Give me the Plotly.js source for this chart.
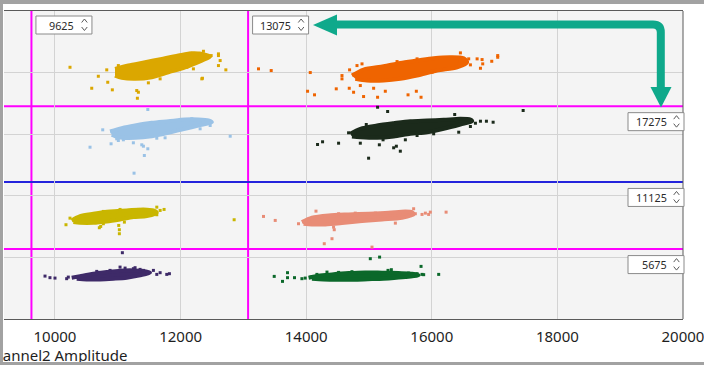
<!DOCTYPE html>
<html>
<head>
<meta charset="utf-8">
<script src="https://cdn.plot.ly/plotly-3.0.1.min.js"></script>
<style>
  html, body { margin: 0; padding: 0; background: #ffffff; overflow: hidden; }
  #wrap { position: relative; width: 704px; height: 365px; overflow: hidden; }
  #chart { position: absolute; left: 0; top: 0; width: 704px; height: 365px; }
  #frame { position: absolute; left: 0; top: 0; width: 704px; height: 365px; box-sizing: border-box;
           border-left: 3px solid #a2a2a2; border-top: 4px solid #a2a2a2; border-bottom: 3px solid #a2a2a2;
           pointer-events: none; }
</style>
</head>
<body>
<div id="wrap"><div id="chart"></div><div id="frame"></div></div>
<script>
// ---------------- data ----------------
const xAxisTitle = 'Channel2 Amplitude';
const xTickVals = [10000, 12000, 14000, 16000, 18000, 20000];
const xTickText = ['10000', '12000', '14000', '16000', '18000', '20000'];
const yGridVals = [0, 5000, 10000, 15000, 20000, 25000];

const vThresholds = [9625, 13075];          // Channel2 thresholds (vertical lines)
const hThresholds = [17275, 11125, 5675];   // Channel1 thresholds (horizontal lines)

// cluster cores (outline of the dense region) and individual droplets
const goldCoreX = [10956,11168,11435,11701,11965,12179,12338,12471,12338,12072,11806,11541,11275,11063,10956];
const goldCoreY = [20304,20571,20839,21115,21382,21569,21520,21301,20977,20433,20028,19622,19493,19574,19760];
const goldPtsX = [10239,10585,10690,10824,10840,10913,11009,11302,11328,11312,11487,11674,12099,12232,12311,12364,12418,12487,12603,12630,12603,12338,12204,12045,12152,12603,12721,12348];
const goldPtsY = [20433,18730,19703,20222,19217,18601,20571,18544,18406,17919,19168,19493,20433,21244,21569,21731,21382,21382,21382,20977,20571,19493,20304,21463,21569,21520,20222,19541];

const orangeCoreX = [14729,14914,15233,15499,15766,16030,16296,16508,16563,16403,16084,15766,15499,15233,14968,14782];
const orangeCoreY = [19760,20247,20514,20790,20977,21163,21244,21163,20839,20433,20166,19760,19493,19355,19355,19493];
const orangePtsX = [13241,13443,14065,14022,14133,14479,14570,14570,14691,14755,14809,14889,14686,14862,14914,15074,15137,15260,15622,15754,15829,16005,16456,16615,16722,16801,16775,16811,16955,17050,17050,16403,16588,16190,15447,15766];
const orangePtsY = [20304,20166,20004,18487,18195,18682,19760,19493,20222,18406,20571,20709,18730,18949,18057,18730,18000,18487,18195,18487,18000,20028,21601,20628,21115,21058,20352,20709,20920,21382,21244,20977,21115,20304,20896,21115];

const blueCoreX = [10877,11063,11275,11541,11806,12072,12284,12444,12498,12284,12072,11806,11541,11275,11009,10904];
const blueCoreY = [15219,15486,15705,15924,16054,16192,16192,16111,15973,15705,15438,15113,14837,14708,14756,14951];
const bluePtsX = [11478,10760,10558,10893,10983,11248,11382,11408,11478,11423,11259,12790,12471,12444,12311,12179,12364,11965,11753,11621,11089,11009];
const bluePtsY = [17003,15356,13945,14221,14626,14302,14140,14026,13816,13272,11837,14837,15705,16111,15438,16249,15973,15300,14708,14675,14545,14489];

const blackCoreX = [14702,14862,15128,15393,15659,15925,16190,16456,16615,16642,16456,16190,15925,15659,15393,15128,14862,14729];
const blackCoreY = [15032,15438,15705,15892,16054,16111,16167,16249,16192,16054,15786,15438,15162,15032,14813,14708,14756,14813];
const blackPtsX = [15137,15297,14181,14261,14516,14862,15165,15224,15393,15436,15499,14994,15579,16365,16429,16615,16695,16775,16870,16977,17455,14675,14957,16030,15766];
const blackPtsY = [17189,16841,14164,14383,14270,14270,14140,14545,13897,14026,13621,13053,14545,16597,15162,15624,15892,16054,16054,15973,16922,15113,15786,15032,14894];

const oliveCoreX = [10266,10399,10611,10877,11143,11408,11567,11621,11462,11248,11036,10824,10611,10399,10292];
const oliveCoreY = [8001,8349,8544,8731,8812,8893,8812,8625,8349,8268,8082,7920,7814,7814,7863];
const olivePtsX = [10175,10239,10706,10728,10770,11015,11025,11025,11105,11621,11674,11737,11621,12853,10770,11036,11328];
const olivePtsY = [7652,8187,7409,7514,7733,7595,7246,6922,7863,9079,8812,8893,8463,8057,8731,8893,8893];

const salmonCoreX = [13932,14092,14356,14675,14994,15313,15579,15686,15711,15526,15208,14889,14570,14304,14092,13958];
const salmonCoreY = [7863,8220,8406,8487,8544,8625,8731,8674,8487,8220,8082,7944,7782,7676,7676,7733];
const salmonPtsX = [13320,13507,13878,14156,14436,14447,14411,14288,15048,15420,15711,15738,15845,15950,15977,15898,16228,15101,14782,14516,14251,14038];
const salmonPtsY = [8325,8001,7733,8755,7457,7246,6517,6111,5835,7782,8950,8544,8487,8487,8674,8593,8674,8593,8593,8544,8268,8001];

const purpleCoreX = [10266,10399,10611,10824,11036,11248,11408,11514,11355,11143,10929,10717,10505,10346];
const purpleCoreY = [3354,3483,3678,3808,3921,3946,3889,3759,3540,3354,3273,3216,3216,3273];
const purplePtsX = [11073,9841,9920,10000,10186,10212,10665,10877,11036,11116,11248,11275,11355,11408,11462,11567,11674,11780,11822,11621];
const purplePtsY = [5381,3483,3354,3321,3273,3402,3865,3946,4213,4132,4084,4165,4027,3946,3759,3946,3759,3621,3678,3621];

const greenCoreX = [14038,14197,14411,14675,14941,15208,15472,15686,15791,15579,15313,15048,14782,14516,14277,14092];
const greenCoreY = [3354,3516,3621,3727,3783,3759,3727,3678,3565,3402,3297,3240,3191,3191,3216,3273];
const greenPtsX = [13491,13623,13703,13703,13814,13932,13985,14076,14171,14331,15021,15169,15303,15356,15829,15766,15845,15871,16110,15632,14729,14516];
const greenPtsY = [3459,3054,3759,3354,3354,3273,3321,3402,3621,3808,4895,5024,3946,4002,4270,3678,3621,3597,3621,3727,3840,3783];

// ---------------- styles ----------------
const clusters = [
  {cx: goldCoreX,   cy: goldCoreY,   px: goldPtsX,   py: goldPtsY,   color: '#dba700'},
  {cx: orangeCoreX, cy: orangeCoreY, px: orangePtsX, py: orangePtsY, color: '#ef6400'},
  {cx: blueCoreX,   cy: blueCoreY,   px: bluePtsX,   py: bluePtsY,   color: '#9ac2e6'},
  {cx: blackCoreX,  cy: blackCoreY,  px: blackPtsX,  py: blackPtsY,  color: '#1b2a1b'},
  {cx: oliveCoreX,  cy: oliveCoreY,  px: olivePtsX,  py: olivePtsY,  color: '#c9b600'},
  {cx: salmonCoreX, cy: salmonCoreY, px: salmonPtsX, py: salmonPtsY, color: '#e88c76'},
  {cx: purpleCoreX, cy: purpleCoreY, px: purplePtsX, py: purplePtsY, color: '#3e2a68'},
  {cx: greenCoreX,  cy: greenCoreY,  px: greenPtsX,  py: greenPtsY,  color: '#0b682a'}
];
const hColors = ['#ff00ff', '#2424dc', '#ff00ff'];
const vColor = '#ff00ff';
const teal = '#0fa98b';
const boxLine = '#8a8a8a';
const chevColor = '#5a5a5a';
const txtFont = {family: 'Noto Sans, Open Sans, sans-serif', size: 15, color: '#1e1e1e'};
const boxFont = {family: 'Noto Sans, Open Sans, sans-serif', size: 10.8, color: '#2a2a2a'};

// ---------------- traces ----------------
const traces = [];
clusters.forEach(c => {
  // dense core of the cluster
  traces.push({
    x: c.cx, y: c.cy, type: 'scatter', mode: 'lines', fill: 'toself',
    fillcolor: c.color, line: {color: c.color, width: 4, shape: 'spline', smoothing: 0.8},
    hoverinfo: 'skip'
  });
  // individual droplets around it
  traces.push({
    x: c.px, y: c.py, type: 'scatter', mode: 'markers',
    marker: {symbol: 'square', size: 3, color: c.color, line: {width: 0}},
    hoverinfo: 'skip'
  });
});

// ---------------- shapes & annotations ----------------
const shapes = [];
const annotations = [];

vThresholds.forEach(v => {
  shapes.push({type: 'line', layer: 'between', xref: 'x', yref: 'paper', x0: v, x1: v, y0: 0, y1: 1,
               line: {color: vColor, width: 2}});
});
hThresholds.forEach((v, i) => {
  shapes.push({type: 'line', layer: 'between', xref: 'paper', yref: 'y', x0: 0, x1: 1, y0: v, y1: v,
               line: {color: hColors[i], width: 2}});
});

// right border of the plot area
shapes.push({type: 'line', xref: 'paper', yref: 'paper', x0: 1, x1: 1, y0: 0, y1: 1,
             line: {color: '#5a5a5a', width: 1}});

// spinner boxes for vertical thresholds (top of plot)
vThresholds.forEach(v => {
  shapes.push({type: 'rect', xref: 'x', xsizemode: 'pixel', xanchor: v, x0: 4.5, x1: 60.5,
               yref: 'paper', ysizemode: 'pixel', yanchor: 1, y0: -5, y1: -23,
               fillcolor: '#ffffff', line: {color: boxLine, width: 1}});
  shapes.push({type: 'path', xref: 'x', xsizemode: 'pixel', xanchor: v,
               yref: 'paper', ysizemode: 'pixel', yanchor: 1,
               path: 'M 50.2,-11.5 L 53,-8 L 55.8,-11.5', fillcolor: 'rgba(0,0,0,0)',
               line: {color: chevColor, width: 1}});
  shapes.push({type: 'path', xref: 'x', xsizemode: 'pixel', xanchor: v,
               yref: 'paper', ysizemode: 'pixel', yanchor: 1,
               path: 'M 50.2,-16 L 53,-19.5 L 55.8,-16', fillcolor: 'rgba(0,0,0,0)',
               line: {color: chevColor, width: 1}});
  annotations.push({text: String(v), xref: 'x', x: v, xanchor: 'right', xshift: 44,
                    yref: 'paper', y: 1, yanchor: 'middle', yshift: -14,
                    showarrow: false, borderpad: 0, font: boxFont});
});

// spinner boxes for horizontal thresholds (right side)
hThresholds.forEach(v => {
  shapes.push({type: 'rect', xref: 'paper', xsizemode: 'pixel', xanchor: 1, x0: -55, x1: 1,
               yref: 'y', ysizemode: 'pixel', yanchor: v, y0: -6.5, y1: -24.5,
               fillcolor: '#ffffff', line: {color: boxLine, width: 1}});
  shapes.push({type: 'path', xref: 'paper', xsizemode: 'pixel', xanchor: 1,
               yref: 'y', ysizemode: 'pixel', yanchor: v,
               path: 'M -9.3,-13 L -6.5,-9.5 L -3.7,-13', fillcolor: 'rgba(0,0,0,0)',
               line: {color: chevColor, width: 1}});
  shapes.push({type: 'path', xref: 'paper', xsizemode: 'pixel', xanchor: 1,
               yref: 'y', ysizemode: 'pixel', yanchor: v,
               path: 'M -9.3,-17.5 L -6.5,-21 L -3.7,-17.5', fillcolor: 'rgba(0,0,0,0)',
               line: {color: chevColor, width: 1}});
  annotations.push({text: String(v), xref: 'paper', x: 1, xanchor: 'right', xshift: -15,
                    yref: 'y', y: v, yanchor: 'middle', yshift: -15.5,
                    showarrow: false, borderpad: 0, font: boxFont});
});

// teal guide arrow (decoration)
shapes.push({type: 'path', xref: 'paper', xsizemode: 'pixel', xanchor: 0,
             yref: 'paper', ysizemode: 'pixel', yanchor: 1,
             path: 'M 330,-13.5 L 649,-13.5 Q 656.8,-13.5 656.8,-21.3 L 656.8,-78',
             fillcolor: 'rgba(0,0,0,0)', line: {color: teal, width: 8}});
shapes.push({type: 'path', xref: 'paper', xsizemode: 'pixel', xanchor: 0,
             yref: 'paper', ysizemode: 'pixel', yanchor: 1,
             path: 'M 309,-14 L 333,-3.5 L 333,-24.5 Z', fillcolor: teal, line: {width: 0}});
shapes.push({type: 'path', xref: 'paper', xsizemode: 'pixel', xanchor: 0,
             yref: 'paper', ysizemode: 'pixel', yanchor: 1,
             path: 'M 657,-96.5 L 646.5,-76 L 667.5,-76 Z', fillcolor: teal, line: {width: 0}});

// x-axis title (its left part falls outside the window, as in the reference screenshot)
annotations.push({text: xAxisTitle, xref: 'paper', x: -0.0309, xanchor: 'left',
                  yref: 'paper', y: 0, yanchor: 'middle', yshift: -36,
                  showarrow: false, borderpad: 0, font: txtFont});

const layout = {
  width: 704, height: 365,
  margin: {l: 4, r: 21, t: 11, b: 46, pad: 0},
  paper_bgcolor: '#ffffff', plot_bgcolor: '#f4f4f4',
  showlegend: false, hovermode: false,
  xaxis: {range: [9188, 20000.5], tickvals: xTickVals, ticktext: xTickText, ticks: '',
          ticklabeloverflow: 'allow', ticklabelstandoff: 4,
          showgrid: true, gridcolor: '#d3d3d3', gridwidth: 1, zeroline: false,
          showline: true, mirror: true, linecolor: '#5a5a5a', linewidth: 1,
          tickfont: txtFont, fixedrange: true},
  yaxis: {range: [0, 25000], tickvals: yGridVals, showticklabels: false, ticks: '',
          showgrid: true, gridcolor: '#d3d3d3', gridwidth: 1, zeroline: false,
          showline: false, fixedrange: true},
  shapes: shapes,
  annotations: annotations
};

Plotly.newPlot('chart', traces, layout, {staticPlot: true, displayModeBar: false});
</script>
</body>
</html>
